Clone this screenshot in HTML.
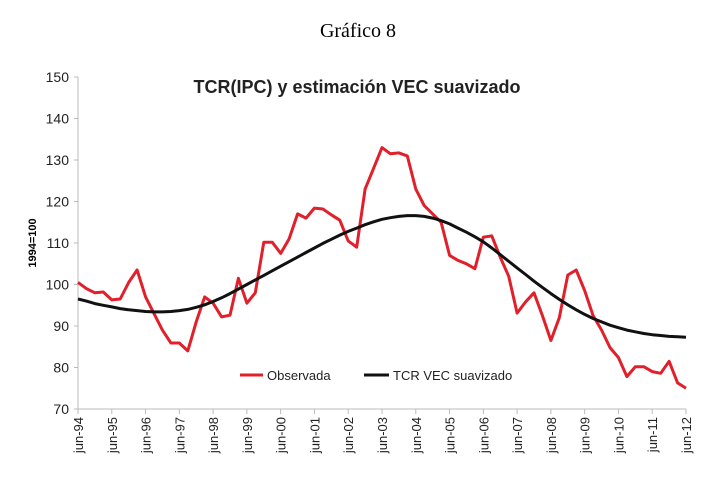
<!DOCTYPE html>
<html><head><meta charset="utf-8"><style>
body{margin:0;background:#fff;width:716px;height:490px;overflow:hidden}
svg{display:block}
</style></head><body>
<svg id="c" width="716" height="490" font-family="Liberation Sans, sans-serif">
<text x="358" y="37" text-anchor="middle" font-family="Liberation Serif, serif" font-size="20">Gráfico 8</text>
<text x="357" y="93" text-anchor="middle" font-size="18" font-weight="bold" fill="#222">TCR(IPC) y estimación VEC suavizado</text>
<text transform="translate(36,243) rotate(-90)" text-anchor="middle" font-size="11" font-weight="bold">1994=100</text>
<g id="axes"></g>
<g id="series"></g>
<g>
<line x1="240" y1="375" x2="263" y2="375" stroke="#e0202a" stroke-width="3"/>
<text x="267" y="380" font-size="13" fill="#222">Observada</text>
<line x1="364" y1="375" x2="389" y2="375" stroke="#111" stroke-width="3"/>
<text x="393" y="380" font-size="13" fill="#222">TCR VEC suavizado</text>
</g>
</svg>
<script>
const yearLabels=["jun-94","jun-95","jun-96","jun-97","jun-98","jun-99","jun-00","jun-01","jun-02","jun-03","jun-04","jun-05","jun-06","jun-07","jun-08","jun-09","jun-10","jun-11","jun-12"];
const yTicks=[70,80,90,100,110,120,130,140,150];
const observada=[100.5,99,98,98.2,96.3,96.5,100.5,103.5,97,93,89,85.9,85.9,84,91,97,95.5,92.2,92.6,101.5,95.5,98,110.2,110.2,107.5,111,117,116,118.4,118.2,116.8,115.5,110.5,109,123,128,133,131.5,131.7,131,123,119,117,115,107,105.8,105,103.8,111.4,111.7,106.6,102,93.1,95.8,98,92.5,86.5,92,102.3,103.5,98.5,92.5,89,84.8,82.4,77.8,80.2,80.2,79,78.6,81.5,76.3,75];
const vecSuavizado=[96.5,96,95.4,95,94.6,94.2,93.9,93.7,93.5,93.4,93.4,93.5,93.7,94,94.5,95.1,95.9,96.8,97.8,98.9,100,101.1,102.2,103.3,104.4,105.5,106.6,107.7,108.8,109.9,110.9,111.9,112.8,113.6,114.4,115.1,115.7,116.1,116.4,116.6,116.6,116.4,116,115.4,114.6,113.6,112.6,111.5,110.3,108.8,107.2,105.6,104,102.4,100.8,99.3,97.8,96.4,95.1,93.9,92.8,91.8,91,90.2,89.6,89,88.6,88.2,87.9,87.7,87.5,87.4,87.3];
const X0=78,X1=686,Y0=409,Y1=77;
const nQ=(yearLabels.length-1)*4;
const xq=i=>X0+(X1-X0)*i/nQ;
const yv=v=>Y0-(v-70)/(150-70)*(Y0-Y1);
const NS="http://www.w3.org/2000/svg";
function mk(t,a,p){const e=document.createElementNS(NS,t);for(const k in a)e.setAttribute(k,a[k]);p.appendChild(e);return e;}
const ax=document.getElementById('axes');
let l=mk('line',{x1:X0,y1:Y1,x2:X0,y2:Y0,stroke:'#bbb','stroke-width':1},ax);


l=mk('line',{x1:X0,y1:Y0,x2:X1,y2:Y0,stroke:'#bbb','stroke-width':1},ax);


yTicks.forEach(v=>{
 mk('line',{x1:X0-4,y1:yv(v),x2:X0,y2:yv(v),stroke:'#bbb'},ax);
 const t=mk('text',{x:X0-9,y:yv(v)+5,'text-anchor':'end','font-size':14,fill:'#222'},ax);
 t.textContent=v;
 
 
});
yearLabels.forEach((s,i)=>{
 const x=xq(i*4);
 mk('line',{x1:x,y1:Y0,x2:x,y2:Y0+5,stroke:'#bbb'},ax);
 const t=mk('text',{transform:`translate(${x+5},${Y0+8}) rotate(-90)`,'text-anchor':'end','font-size':13,fill:'#222'},ax);
 t.textContent=s;
 
 
});
const sg=document.getElementById('series');
function line(arr,col,name){
 const p=mk('polyline',{points:arr.map((v,i)=>xq(i).toFixed(1)+','+yv(v).toFixed(1)).join(' '),fill:'none',stroke:col,'stroke-width':3,'stroke-linejoin':'round'},sg);
 
 
}
line(observada,'#e0202a','observada-line');
line(vecSuavizado,'#111','vec-suavizado-line');
</script>
</body></html>
